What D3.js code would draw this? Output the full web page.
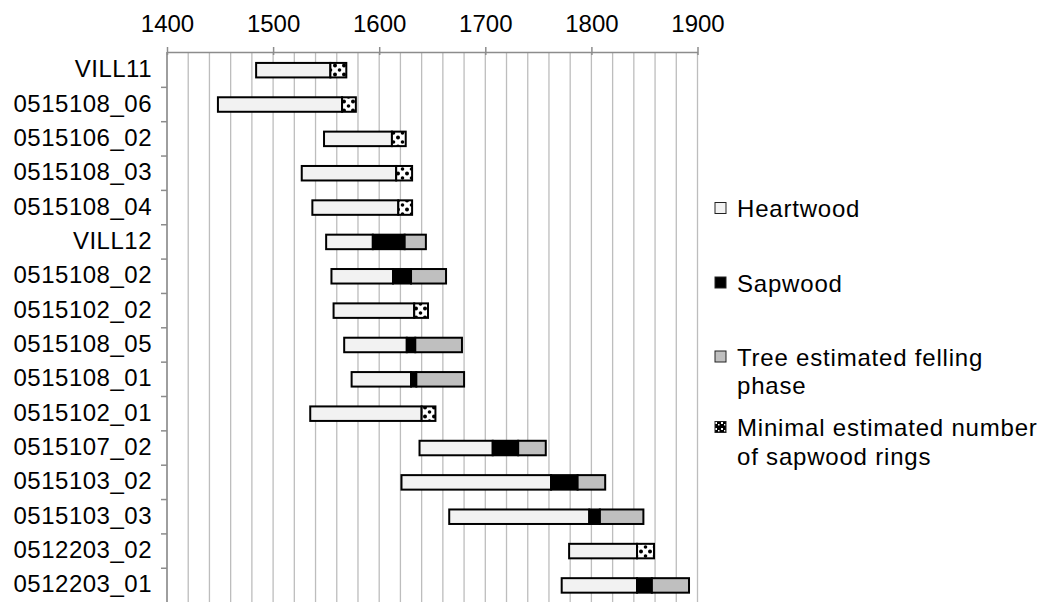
<!DOCTYPE html>
<html>
<head>
<meta charset="utf-8">
<script src="https://cdn.jsdelivr.net/npm/d3@7"></script>
<style>
    body { margin: 0; background: #fff; }
    svg { display: block; font-family: "Liberation Sans", Arial, sans-serif; }
</style>
</head>
<body>
<div id="chart"></div>
<script>
// Samples, top to bottom
const samples = ['VILL11', '0515108_06', '0515106_02', '0515108_03', '0515108_04', 'VILL12',
    '0515108_02', '0515102_02', '0515108_05', '0515108_01', '0515102_01', '0515107_02',
    '0515103_02', '0515103_03', '0512203_02', '0512203_01'];

// First ring year (hidden offset series) and segment lengths in years
const startYear = [1484, 1448, 1548, 1527, 1537, 1550, 1555, 1557, 1567, 1574, 1535, 1638, 1621, 1666, 1779, 1772];
const heartwood = [70, 117, 64, 89, 81, 44, 58, 76, 59, 56, 105, 69, 141, 132, 64, 71];
const sapwood = [0, 0, 0, 0, 0, 30, 17, 0, 8, 5, 0, 24, 25, 10, 0, 14];
const felling = [0, 0, 0, 0, 0, 20, 33, 0, 44, 45, 0, 26, 26, 41, 0, 35];
const minSapwood = [15, 13, 13, 15, 13, 0, 0, 13, 0, 0, 13, 0, 0, 0, 16, 0];

const yearTicks = [1400, 1500, 1600, 1700, 1800, 1900];
const gridYears = d3.range(1400, 1901, 20);

const legendItems = [
    { key: 'heartwood', lines: ['Heartwood'] },
    { key: 'sapwood', lines: ['Sapwood'] },
    { key: 'felling', lines: ['Tree estimated felling', 'phase'] },
    { key: 'minSapwood', lines: ['Minimal estimated number', 'of sapwood rings'] }
];

const fills = {
    heartwood: '#f2f2f2',
    sapwood: '#000000',
    felling: '#bfbfbf',
    minSapwood: 'url(#confetti)'
};

function renderChart() {
    const width = 1050;
    const height = 602;

    const svg = d3.select('#chart')
        .append('svg')
        .attr('width', width)
        .attr('height', height);

    const defs = svg.append('defs');

    // spotted pattern for the minimal sapwood segment
    const pat = defs.append('pattern')
        .attr('id', 'confetti')
        .attr('patternUnits', 'userSpaceOnUse')
        .attr('width', 9)
        .attr('height', 9);
    pat.append('rect').attr('width', 9).attr('height', 9).attr('fill', '#fff');
    pat.append('circle').attr('cx', 2).attr('cy', 2.5).attr('r', 2).attr('fill', '#000');
    pat.append('circle').attr('cx', 6.5).attr('cy', 7).attr('r', 1.8).attr('fill', '#000');

    // inverse one for the legend swatch
    const patL = defs.append('pattern')
        .attr('id', 'confettiLegend')
        .attr('patternUnits', 'userSpaceOnUse')
        .attr('width', 6)
        .attr('height', 6);
    patL.append('rect').attr('width', 6).attr('height', 6).attr('fill', '#000');
    patL.append('rect').attr('x', 1).attr('y', 2).attr('width', 2).attr('height', 2).attr('fill', '#fff');
    patL.append('rect').attr('x', 4).attr('y', 4).attr('width', 1.5).attr('height', 1.5).attr('fill', '#fff');

    const plotTop = 52;
    const xScale = d3.scaleLinear()
        .domain([1400, 1900])
        .range([167, 697.5]);

    const yScale = d3.scaleBand()
        .domain(samples)
        .range([53, 602.6])
        .padding(0);

    const barH = 14.5;

    // vertical grid lines
    svg.append('g')
        .selectAll('line')
        .data(gridYears)
        .enter()
        .append('line')
        .attr('x1', d => xScale(d))
        .attr('x2', d => xScale(d))
        .attr('y1', plotTop)
        .attr('y2', height)
        .attr('stroke', '#bdbdbd')
        .attr('stroke-width', 1.3);

    // top axis
    const xAxis = svg.append('g')
        .attr('transform', `translate(0, ${plotTop})`)
        .call(d3.axisTop(xScale)
            .tickValues(yearTicks)
            .tickSizeInner(5)
            .tickSizeOuter(0)
            .tickPadding(15)
            .tickFormat(d3.format('d')));
    xAxis.select('.domain').attr('stroke', '#8c8c8c').attr('stroke-width', 1.5);
    xAxis.selectAll('.tick line')
        .attr('stroke', '#8c8c8c')
        .attr('stroke-width', 1.5)
        .attr('y1', 3);
    xAxis.selectAll('.tick text')
        .attr('fill', '#000')
        .style('font-size', '24px')
        .style('font-family', '"Liberation Sans", Arial, sans-serif');

    // left axis with ticks between categories
    svg.append('line')
        .attr('x1', xScale(1400))
        .attr('x2', xScale(1400))
        .attr('y1', plotTop)
        .attr('y2', height)
        .attr('stroke', '#8c8c8c')
        .attr('stroke-width', 1.5);

    svg.append('g')
        .selectAll('line')
        .data(samples.slice(1))
        .enter()
        .append('line')
        .attr('x1', xScale(1400) - 6)
        .attr('x2', xScale(1400))
        .attr('y1', d => yScale(d))
        .attr('y2', d => yScale(d))
        .attr('stroke', '#8c8c8c')
        .attr('stroke-width', 1.5);

    svg.append('g')
        .selectAll('text')
        .data(samples)
        .enter()
        .append('text')
        .attr('x', 152)
        .attr('y', d => yScale(d) + yScale.bandwidth() / 2 + 7)
        .attr('text-anchor', 'end')
        .attr('fill', '#000')
        .style('font-size', '24px')
        .style('letter-spacing', '0.5px')
        .text(d => d);

    // stacked segments
    const segments = [];
    samples.forEach((s, i) => {
        let pos = startYear[i];
        [['heartwood', heartwood[i]], ['sapwood', sapwood[i]], ['felling', felling[i]], ['minSapwood', minSapwood[i]]]
            .forEach(([key, len]) => {
                if (len > 0) {
                    segments.push({ sample: s, key: key, from: pos, to: pos + len });
                    pos += len;
                }
            });
    });

    svg.append('g')
        .selectAll('rect')
        .data(segments)
        .enter()
        .append('rect')
        .attr('x', d => xScale(d.from))
        .attr('y', d => yScale(d.sample) + (yScale.bandwidth() - barH) / 2)
        .attr('width', d => xScale(d.to) - xScale(d.from))
        .attr('height', barH)
        .attr('fill', d => fills[d.key])
        .attr('stroke', '#000')
        .attr('stroke-width', 2);

    // legend
    const legendX = 715;
    const legendRows = [208, 282.5, 356.5, 427];
    const legend = svg.append('g').attr('class', 'legend');

    legendItems.forEach((item, i) => {
        const cy = legendRows[i];
        legend.append('rect')
            .attr('x', legendX)
            .attr('y', cy - 5.5)
            .attr('width', 11)
            .attr('height', 11)
            .attr('fill', item.key === 'minSapwood' ? 'url(#confettiLegend)' : fills[item.key])
            .attr('stroke', '#222')
            .attr('stroke-width', 1);

        item.lines.forEach((line, j) => {
            legend.append('text')
                .attr('x', legendX + 22)
                .attr('y', cy + 9 + j * 28.5)
                .attr('fill', '#000')
                .style('font-size', '24px')
                .style('letter-spacing', '0.8px')
                .text(line);
        });
    });
}

renderChart();
</script>
</body>
</html>
